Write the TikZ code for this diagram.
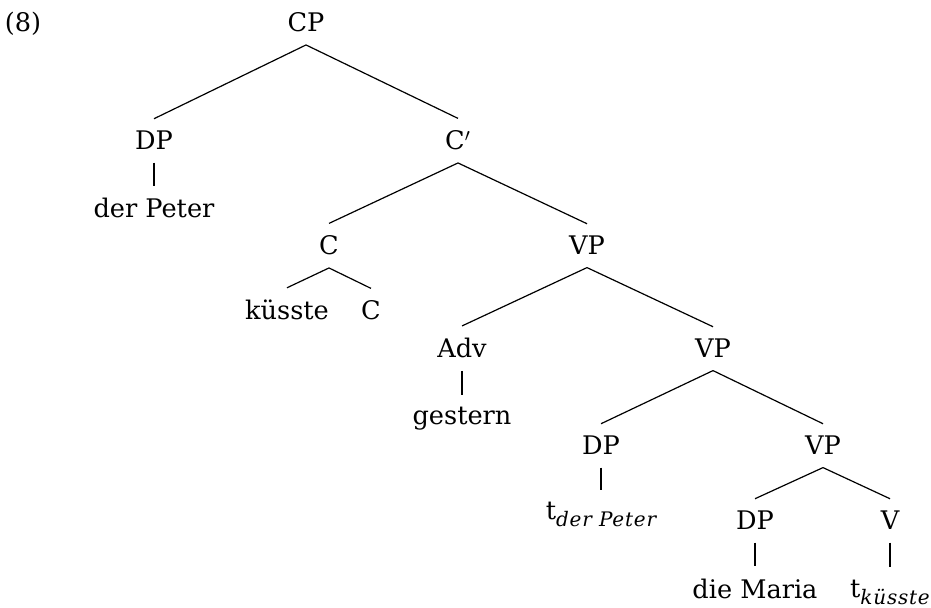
\documentclass[tikz,border=0pt]{standalone}
\usepackage{fontspec}
\setmainfont{DejaVu Serif}
\newfontfamily\tracefont{DejaVu Serif}[LetterSpace=4]

% trace with its antecedent as an italic subscript
\newcommand{\tracesub}[1]{t\raisebox{-3.5pt}{\tracefont\itshape\fontsize{10}{10}\selectfont #1}}

\begin{document}
\begin{tikzpicture}[x=0.5pt, y=-0.5pt, line width=0.6pt,
  lbl/.style={anchor=base, inner sep=6pt, font=\fontsize{12.8}{15}\selectfont}]
\useasboundingbox (0,0) rectangle (931,608);

\node (ex) at (23,32) [lbl] {(8)};

\node (cp) at (306,32) [lbl] {CP};
\node (dp1) at (154,150) [lbl] {DP};
\node (cbar) at (458,150) [lbl] {C$'$};
\node (name1) at (154,218) [lbl] {der Peter};
\node (c) at (329,255) [lbl] {C};
\node (vp1) at (587,255) [lbl] {VP};
\node (verb) at (287,320) [lbl] {küsste};
\node (c0) at (371,320) [lbl] {C};
\node (adv) at (462,358) [lbl] {Adv};
\node (vp2) at (713,358) [lbl] {VP};
\node (gest) at (462,425) [lbl] {gestern};
\node (dp2) at (601,455) [lbl] {DP};
\node (vp3) at (823,455) [lbl] {VP};
\node (tr1) at (601,520) [lbl] {\tracesub{der Peter}};
\node (dp3) at (755,530) [lbl] {DP};
\node (v) at (890,530) [lbl] {V};
\node (name2) at (755,598) [lbl] {die Maria};
\node (tr2) at (890,597) [lbl] {\tracesub{küsste}};

\draw (cp.south) -- (dp1.north);
\draw (cp.south) -- (cbar.north);
\draw (dp1.south) -- (name1.north);
\draw (cbar.south) -- (c.north);
\draw (cbar.south) -- (vp1.north);
\draw (c.south) -- (verb.north);
\draw (c.south) -- (c0.north);
\draw (vp1.south) -- (adv.north);
\draw (vp1.south) -- (vp2.north);
\draw (adv.south) -- (gest.north);
\draw (vp2.south) -- (dp2.north);
\draw (vp2.south) -- (vp3.north);
\draw (dp2.south) -- (tr1.north);
\draw (vp3.south) -- (dp3.north);
\draw (vp3.south) -- (v.north);
\draw (dp3.south) -- (name2.north);
\draw (v.south) -- (tr2.north);
\end{tikzpicture}
\end{document}
